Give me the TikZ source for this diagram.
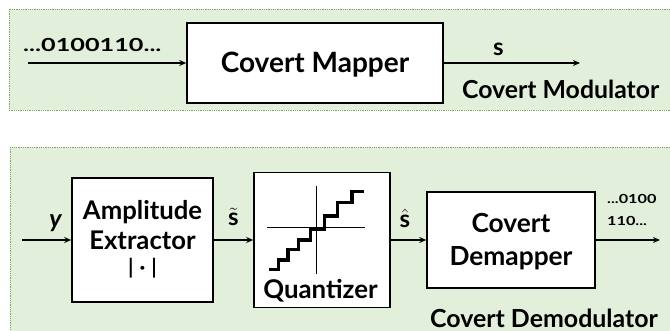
\documentclass[tikz,border=0pt]{standalone}
\usepackage{fontspec}
\setmainfont{Lato}
\usetikzlibrary{arrows.meta}
\definecolor{panelfill}{HTML}{E2EFDA}
\definecolor{paneldraw}{HTML}{7FA65A}
\newcommand{\fs}[1]{\fontsize{#1}{#1}\selectfont}
\begin{document}
\begin{tikzpicture}[x=1pt,y=-1pt,
  panel/.style={fill=panelfill,draw=paneldraw,densely dotted,line width=0.8pt},
  blockbox/.style={draw=black,fill=white,line width=1.6pt,align=center,inner sep=0pt,font=\bfseries},
  conn/.style={line width=1.3pt,-{Stealth[length=7pt,width=6pt]}},
  lbl/.style={font=\bfseries,inner sep=0pt,anchor=base},
  bits/.style={lbl,anchor=base west}]
\useasboundingbox (0,0) rectangle (670,331);
% panels
\path[panel] (9,9) rectangle (674,110);
\path[panel] (10,147) rectangle (674,335);
% top
\node[blockbox,minimum width=256pt,minimum height=80pt,text height=20pt,text depth=0pt,font=\bfseries\fs{28}] (mapper) at (315,63) {Covert Mapper};
\coordinate (in1) at (28,63);
\coordinate (out1) at (580,63);
\draw[conn] (in1) -- (mapper.west);
\draw[conn] (mapper.east) -- (out1);
\node[bits,font=\bfseries\fs{18}\addfontfeature{FakeStretch=1.4}] (bits1) at (23,51.7) {...0100110...};
\node[lbl] (s1) at (498.5,56) {\fs{24}$\mathbf{s}$};
\node[lbl,anchor=base west,font=\bfseries\fs{24.8}] (modlbl) at (462,99) {Covert Modulator};
% bottom
\node[blockbox,minimum width=141pt,minimum height=124pt] (amp) at (142.5,240) {};
\node[lbl,font=\bfseries\fs{25.7}] (amp1) at (amp.center |- 0,220) {Amplitude};
\node[lbl,font=\bfseries\fs{25.7}] (amp2) at (amp.center |- 0,250) {Extractor};
\node[lbl,font=\bfseries\fs{21}] (amp3) at (amp.center |- 0,274.5) {|\hspace{6pt}·\hspace{6pt}|};
\node[blockbox,minimum width=136pt,minimum height=135pt] (quant) at (322,240) {};
\node[lbl,font=\bfseries\fs{25.8}] (qlbl) at (320.5,298.3) {Quantizer};
\draw[line width=0.6pt] (316.3,186) -- (316.3,274);
\draw[line width=0.6pt] (267.3,227.7) -- (365.3,227.7);
\draw[line width=3.2pt,line join=miter]
  (269,269.3) -- (278.7,269.3) -- (278.7,260) -- (288,260) -- (288,249.3) -- (298.7,249.3)
  -- (298.7,240) -- (310.7,240) -- (310.7,229.3) -- (324.7,229.3) -- (324.7,216)
  -- (337.3,216) -- (337.3,202.7) -- (352,202.7) -- (352,191.7) -- (364,191.7);
\node[blockbox,minimum width=168pt,minimum height=96pt] (demap) at (511,240) {};
\node[lbl,font=\bfseries\fs{26.3}] (dm1) at (demap.center |- 0,232.7) {Covert};
\node[lbl,font=\bfseries\fs{26.3}] (dm2) at (demap.center |- 0,266) {Demapper};
\coordinate (in2) at (22,240);
\coordinate (out2) at (660,240);
\draw[conn] (in2) -- (amp.west);
\draw[conn] (amp.east) -- (quant.west);
\draw[conn] (quant.east) -- (demap.west);
\draw[conn] (demap.east) -- (out2);
\node[lbl,font=\bfseries\itshape\fs{25}] (ylbl) at (55.5,228) {y};
\node[lbl] (stl) at (233.5,226) {\fs{24}$\tilde{\mathbf{s}}$};
\node[lbl] (shl) at (405,228) {\fs{24}$\hat{\mathbf{s}}$};
\node[bits,font=\bfseries\fs{12.5}\addfontfeature{FakeStretch=1.3}] (bits2a) at (607,203.5) {...0100};
\node[bits,font=\bfseries\fs{12.5}\addfontfeature{FakeStretch=1.3}] (bits2b) at (607,226) {110...};
\node[lbl,anchor=base west,font=\bfseries\fs{24.9}] (demodlbl) at (430,327) {Covert Demodulator};
\end{tikzpicture}
\end{document}
